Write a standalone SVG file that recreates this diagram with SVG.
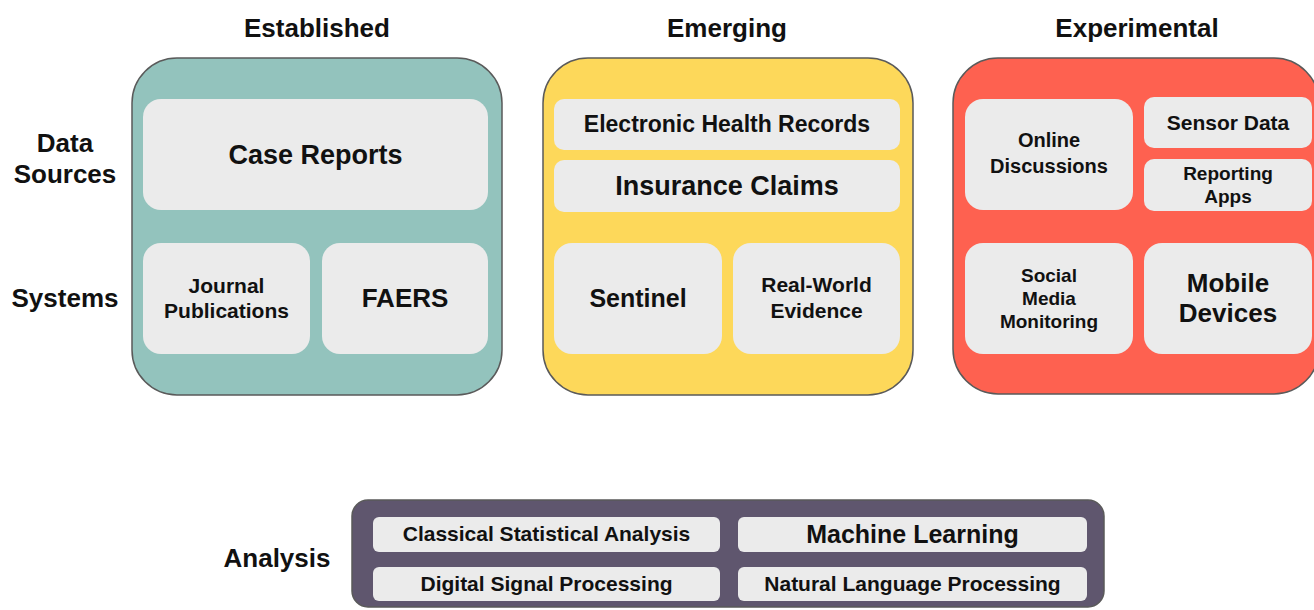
<svg xmlns="http://www.w3.org/2000/svg" width="1314" height="610" viewBox="0 0 1314 610">
<style>
text{font-family:"Liberation Sans",Arial,sans-serif;font-weight:bold;fill:#111;text-anchor:middle}
.outer{stroke:#5a5a5a;stroke-width:1.5}
.inner{fill:#ebebeb}
</style>
<rect width="1314" height="610" fill="#ffffff"/>
<g id="headers">
<text x="317" y="37" font-size="26">Established</text>
<text x="727" y="37" font-size="26">Emerging</text>
<text x="1137" y="37" font-size="26">Experimental</text>
</g>
<g id="row-labels">
<text x="65" y="152" font-size="26">Data</text>
<text x="65" y="183" font-size="26">Sources</text>
<text x="65" y="307" font-size="26">Systems</text>
<text x="277" y="567" font-size="26">Analysis</text>
</g>
<g id="established">
<rect class="outer" x="132" y="58" width="370" height="337" rx="45" fill="#93c3bd"/>
<g id="case-reports"><rect class="inner" x="143" y="99" width="345" height="111" rx="18"/><text x="315.5" y="164" font-size="27">Case Reports</text></g>
<g id="journal-publications"><rect class="inner" x="143" y="243" width="167" height="111" rx="18"/><text x="226.5" y="293" font-size="21">Journal</text><text x="226.5" y="318" font-size="21">Publications</text></g>
<g id="faers"><rect class="inner" x="322" y="243" width="166" height="111" rx="18"/><text x="405" y="307" font-size="26">FAERS</text></g>
</g>
<g id="emerging">
<rect class="outer" x="543" y="58" width="370" height="337" rx="45" fill="#fdd85a"/>
<g id="ehr"><rect class="inner" x="554" y="99" width="346" height="51" rx="10"/><text x="727" y="132" font-size="23">Electronic Health Records</text></g>
<g id="insurance-claims"><rect class="inner" x="554" y="160" width="346" height="52" rx="10"/><text x="727" y="195" font-size="27">Insurance Claims</text></g>
<g id="sentinel"><rect class="inner" x="554" y="243" width="168" height="111" rx="18"/><text x="638" y="307" font-size="25">Sentinel</text></g>
<g id="real-world-evidence"><rect class="inner" x="733" y="243" width="167" height="111" rx="18"/><text x="816.5" y="292" font-size="21">Real-World</text><text x="816.5" y="318" font-size="21">Evidence</text></g>
</g>
<g id="experimental">
<rect class="outer" x="953" y="58" width="366" height="336" rx="45" fill="#fe6150"/>
<g id="online-discussions"><rect class="inner" x="965" y="99" width="168" height="111" rx="18"/><text x="1049" y="147" font-size="20">Online</text><text x="1049" y="173" font-size="20">Discussions</text></g>
<g id="sensor-data"><rect class="inner" x="1144" y="97" width="168" height="51" rx="10"/><text x="1228" y="130" font-size="21">Sensor Data</text></g>
<g id="reporting-apps"><rect class="inner" x="1144" y="159" width="168" height="52" rx="10"/><text x="1228" y="180" font-size="19">Reporting</text><text x="1228" y="203" font-size="19">Apps</text></g>
<g id="social-media-monitoring"><rect class="inner" x="965" y="243" width="168" height="111" rx="18"/><text x="1049" y="282" font-size="19">Social</text><text x="1049" y="305" font-size="19">Media</text><text x="1049" y="328" font-size="19">Monitoring</text></g>
<g id="mobile-devices"><rect class="inner" x="1144" y="243" width="168" height="111" rx="18"/><text x="1228" y="292" font-size="26">Mobile</text><text x="1228" y="322" font-size="26">Devices</text></g>
</g>
<g id="analysis">
<rect class="outer" x="352" y="500" width="752" height="107" rx="16" fill="#5f566e"/>
<g id="classical"><rect class="inner" x="373" y="517" width="347" height="35" rx="6"/><text x="546.5" y="541" font-size="21">Classical Statistical Analysis</text></g>
<g id="machine-learning"><rect class="inner" x="738" y="517" width="349" height="35" rx="6"/><text x="912.5" y="543" font-size="25">Machine Learning</text></g>
<g id="dsp"><rect class="inner" x="373" y="567" width="347" height="34" rx="6"/><text x="546.5" y="591" font-size="21">Digital Signal Processing</text></g>
<g id="nlp"><rect class="inner" x="738" y="567" width="349" height="34" rx="6"/><text x="912.5" y="591" font-size="21">Natural Language Processing</text></g>
</g>
<g id="connectors"/>
</svg>
